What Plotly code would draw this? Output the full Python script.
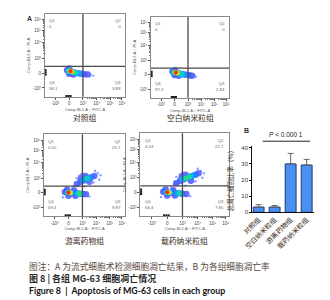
import math
import plotly.graph_objects as go

# ---------------- data ----------------
groups = ["对照组", "空白纳米粒组", "游离药物组", "载药纳米粒组"]

# quadrant percentages of each flow plot
quad_q1 = ["0", "0", "0.02", "4.03"]
quad_q2 = ["0", "0", "20.7", "21.7"]
quad_q3 = ["3.89", "2.84", "9.87", "7.85"]
quad_q4 = ["96.1", "97.2", "69.4", "66.4"]

# biexponential display: tick positions (display units) and labels
x_tick_pos = [-1, 0, 1, 2, 2.97, 3.83]
y_tick_pos = [-1, 0, 1, 2.05, 2.9, 3.6]
tick_text = ["-10³", "0", "10³", "10⁴", "10⁵", "10⁶"]

# quadrant gates (display units)
gate_x = [1.0, 1.0, 1.0, 1.0]
gate_y = [0.45, 0.45, 0.45, 0.45]

# density: (x, y, relative density)
dens_x_1 = [1.55, 1.75, -0.15, 0.1, 0.35, 0.6, 0.85, 1.1, 1.35, 0.0, 0.3, 0.0,
            -0.05, 0.25, 0.5, 0.75, 0.0, 0.2, 0.4, 0.05, 0.22, 0.1]
dens_y_1 = [-0.13, -0.18, 0.2, 0.12, 0.05, 0.0, -0.04, -0.08, -0.1, -0.05, -0.1, 0.3,
            0.15, 0.08, 0.02, -0.02, 0.15, 0.1, 0.05, 0.14, 0.1, 0.13]
dens_l_1 = [0.1, 0.08, 0.22, 0.22, 0.22, 0.22, 0.22, 0.22, 0.2, 0.22, 0.2, 0.15,
            0.45, 0.45, 0.45, 0.42, 0.6, 0.6, 0.58, 0.8, 0.78, 1.0]

dens_x_2 = [1.45, 1.6, -0.15, 0.1, 0.35, 0.6, 0.85, 1.1, 1.3, 0.0, 0.3, 0.05,
            -0.05, 0.25, 0.5, 0.75, 0.0, 0.2, 0.4, 0.05, 0.2, 0.1]
dens_y_2 = [-0.1, -0.15, 0.22, 0.15, 0.08, 0.03, 0.0, -0.04, -0.07, -0.03, -0.08, 0.32,
            0.17, 0.1, 0.05, 0.01, 0.17, 0.12, 0.07, 0.16, 0.12, 0.15]
dens_l_2 = [0.1, 0.08, 0.22, 0.22, 0.22, 0.22, 0.22, 0.22, 0.2, 0.22, 0.2, 0.15,
            0.45, 0.45, 0.45, 0.42, 0.6, 0.6, 0.55, 0.8, 0.75, 1.0]

dens_x_3 = [2.1, 0.95, 1.8, 0.4, 1.15, 2.2, 0.6, 1.9, -0.4, 1.5, 0.3, 2.3,
            -0.25, 0.0, 0.25, 0.5, 0.75, 1.0, 1.25, 0.0, 0.5, -0.1, 0.4,
            0.6, 0.85, 1.1, 1.35, 1.6, 1.85, 1.2, 1.5, 0.9,
            -0.05, 0.2, 0.65, 0.9, 1.0, 1.3, 1.55,
            0.0, 0.75, 0.85, 1.35, 0.03, 0.15, 0.0]
dens_y_3 = [1.35, 1.3, 0.7, 0.45, 0.45, 0.9, 1.0, 1.5, -0.3, -0.25, 0.35, 1.2,
            0.05, 0.0, -0.02, -0.05, -0.05, -0.08, -0.1, -0.2, -0.2, 0.2, 0.15,
            0.6, 0.75, 0.85, 0.95, 1.05, 1.15, 1.15, 0.75, 1.05,
            0.02, 0.0, -0.05, -0.06, 0.85, 0.95, 1.05,
            0.02, -0.05, -0.05, 0.98, 0.02, 0.0, 0.02]
dens_l_3 = [0.1, 0.1, 0.1, 0.1, 0.1, 0.1, 0.1, 0.1, 0.1, 0.1, 0.1, 0.1,
            0.22, 0.22, 0.22, 0.22, 0.22, 0.22, 0.2, 0.2, 0.2, 0.2, 0.2,
            0.2, 0.22, 0.22, 0.22, 0.22, 0.2, 0.2, 0.18, 0.18,
            0.45, 0.45, 0.45, 0.42, 0.4, 0.42, 0.4,
            0.6, 0.6, 0.58, 0.52, 0.8, 0.75, 1.0]

dens_x_4 = [2.2, 1.0, 1.85, 0.45, 1.2, 2.3, 0.6, 2.0, -0.4, 1.5, 0.3, 2.4,
            -0.25, 0.0, 0.25, 0.5, 0.75, 1.0, 1.25, 0.0, 0.5, -0.1, 0.4,
            0.6, 0.85, 1.1, 1.35, 1.6, 1.85, 1.2, 1.55, 0.95, 2.05,
            -0.05, 0.2, 0.65, 0.9, 1.0, 1.3, 1.55, 1.75,
            0.0, 0.8, 1.25, 1.45, 0.03, 0.15, 0.0]
dens_y_4 = [1.45, 1.35, 0.75, 0.5, 0.45, 1.0, 1.05, 1.6, -0.3, -0.25, 0.35, 1.3,
            0.05, 0.0, -0.02, -0.05, -0.05, -0.08, -0.1, -0.2, -0.2, 0.2, 0.15,
            0.62, 0.8, 0.9, 1.0, 1.1, 1.2, 1.2, 0.8, 1.1, 1.3,
            0.02, 0.0, -0.05, -0.06, 0.9, 1.0, 1.1, 1.18,
            0.02, -0.05, 0.98, 1.05, 0.02, 0.0, 0.02]
dens_l_4 = [0.1, 0.1, 0.1, 0.1, 0.1, 0.1, 0.1, 0.1, 0.1, 0.1, 0.1, 0.1,
            0.22, 0.22, 0.22, 0.22, 0.22, 0.22, 0.2, 0.2, 0.2, 0.2, 0.2,
            0.22, 0.22, 0.22, 0.22, 0.22, 0.22, 0.2, 0.2, 0.2, 0.18,
            0.45, 0.45, 0.42, 0.4, 0.45, 0.45, 0.45, 0.4,
            0.6, 0.55, 0.58, 0.56, 0.8, 0.72, 1.0]

dens_x = [dens_x_1, dens_x_2, dens_x_3, dens_x_4]
dens_y = [dens_y_1, dens_y_2, dens_y_3, dens_y_4]
dens_l = [dens_l_1, dens_l_2, dens_l_3, dens_l_4]

# events piled on the lower / left axis edges
pile_x = [-0.2, -0.05, 0.1]
pile_y = [-0.1, 0.05, 0.2]

# bar chart (B)
bar_values = [3.2, 3.2, 30.0, 29.3]
bar_errors = [1.5, 1.0, 6.5, 3.5]
bar_ticks = [0, 10, 20, 30, 40]
p_text = "<i>P</i> < 0.000 1"

# ---------------- layout helpers ----------------
W, H = 330, 300
X_RANGE = [-1.75, 4.05]
Y_RANGE = [-1.6, 4.0]


def px_x(v):
    return v / W


def px_y(v):
    return 1 - v / H


# pixel boxes (left, top, right, bottom) of the four flow plots
boxes = [(27, 5, 110, 89), (137, 8, 218, 90), (26, 127, 110, 210), (126, 126, 218, 210)]
label_y = [110, 110, 235, 235]

jet = [[0.0, "#d2dbff"], [0.12, "#7d8cff"], [0.28, "#2a3cff"], [0.45, "#00c0ff"],
       [0.6, "#22e07a"], [0.74, "#e6ea10"], [0.87, "#ff9a00"], [1.0, "#ff1800"]]


def minor_positions(pos):
    out = []
    for a, b in zip(pos[2:-1], pos[3:]):
        for k in range(2, 10):
            out.append(a + (b - a) * math.log10(k))
    return out


def msize(lv):
    return 2.6 if lv < 0.15 else 7.2 - 3.4 * lv


fig = go.Figure()
layout = dict(
    width=W, height=H, margin=dict(l=0, r=0, t=0, b=0),
    paper_bgcolor="white", plot_bgcolor="white", showlegend=False,
    font=dict(family="Liberation Sans", color="#333"),
)
annotations = []
shapes = []

for i in range(4):
    n = i + 1
    xa = "x" if n == 1 else f"x{n}"
    ya = "y" if n == 1 else f"y{n}"
    l, t, r, b = boxes[i]
    order = sorted(range(len(dens_l[i])), key=lambda k: dens_l[i][k])
    lv = [dens_l[i][k] for k in order]
    fig.add_trace(go.Scatter(
        x=[dens_x[i][k] for k in order], y=[dens_y[i][k] for k in order],
        mode="markers", xaxis=xa, yaxis=ya, hoverinfo="skip",
        marker=dict(size=[msize(v) for v in lv], color=lv, colorscale=jet,
                    cmin=0, cmax=1, opacity=0.92, line=dict(width=0)),
    ))
    # piled events on the axis edges
    fig.add_trace(go.Scatter(
        x=pile_x + [X_RANGE[0] + 0.04] * len(pile_y),
        y=[Y_RANGE[0] + 0.05] * len(pile_x) + pile_y,
        mode="markers", xaxis=xa, yaxis=ya, hoverinfo="skip", cliponaxis=False,
        marker=dict(size=2.2, color="#222", symbol="square"),
    ))
    common = dict(showgrid=False, zeroline=False, showline=True, mirror=True,
                  linecolor="#8a8a8a", linewidth=1, ticks="outside", ticklen=2,
                  tickcolor="#555", tickwidth=0.6, tickfont=dict(size=4.5, color="#444"),
                  tickmode="array", ticktext=tick_text)
    layout["xaxis" if n == 1 else f"xaxis{n}"] = dict(
        common, domain=[px_x(l), px_x(r)], anchor=ya, range=X_RANGE,
        tickvals=x_tick_pos,
        minor=dict(tickmode="array", tickvals=minor_positions(x_tick_pos), ticks="outside",
                   ticklen=1.2, tickcolor="#777", tickwidth=0.5),
        title=dict(text="Comp-BL1-A :: FITC-A", font=dict(size=4, color="#555"), standoff=2),
    )
    layout["yaxis" if n == 1 else f"yaxis{n}"] = dict(
        common, domain=[px_y(b), px_y(t)], anchor=xa, range=Y_RANGE,
        tickvals=y_tick_pos,
        minor=dict(tickmode="array", tickvals=minor_positions(y_tick_pos), ticks="outside",
                   ticklen=1.2, tickcolor="#777", tickwidth=0.5),
        title=dict(text="Comp-BL3-A :: PI-A", font=dict(size=4, color="#555"), standoff=2),
    )
    # quadrant gates
    shapes.append(dict(type="line", xref=xa, yref=f"{ya} domain", x0=gate_x[i], x1=gate_x[i],
                       y0=0, y1=1, line=dict(color="#4a4a4a", width=1.3), layer="above"))
    shapes.append(dict(type="line", xref=f"{xa} domain", yref=ya, x0=0, x1=1,
                       y0=gate_y[i], y1=gate_y[i], line=dict(color="#4a4a4a", width=1.3),
                       layer="above"))
    qf = dict(size=4.3, color="#666")
    annotations += [
        dict(xref=f"{xa} domain", yref=f"{ya} domain", x=0.03, y=0.97, xanchor="left",
             yanchor="top", text=f"Q1<br>{quad_q1[i]}", showarrow=False, font=qf, align="left"),
        dict(xref=f"{xa} domain", yref=f"{ya} domain", x=0.97, y=0.97, xanchor="right",
             yanchor="top", text=f"Q2<br>{quad_q2[i]}", showarrow=False, font=qf, align="right"),
        dict(xref=f"{xa} domain", yref=f"{ya} domain", x=0.97, y=0.05, xanchor="right",
             yanchor="bottom", text=f"Q3<br>{quad_q3[i]}", showarrow=False, font=qf, align="right"),
        dict(xref=f"{xa} domain", yref=f"{ya} domain", x=0.03, y=0.05, xanchor="left",
             yanchor="bottom", text=f"Q4<br>{quad_q4[i]}", showarrow=False, font=qf, align="left"),
        dict(xref="paper", yref="paper", x=px_x((l + r) / 2), y=px_y(label_y[i]),
             xanchor="center", yanchor="middle", text=groups[i], showarrow=False,
             font=dict(size=7.8, family="Noto Sans CJK SC", color="#3a2c22")),
    ]

# ---------------- bar chart ----------------
fig.add_trace(go.Bar(
    x=groups, y=bar_values, xaxis="x5", yaxis="y5", width=0.68,
    marker=dict(color="#4a8ff2", line=dict(color="#1d3b72", width=1)),
    error_y=dict(type="data", symmetric=False, array=bar_errors, arrayminus=[0] * 4,
                 color="#666", thickness=1, width=3),
    hoverinfo="skip",
))
layout["xaxis5"] = dict(domain=[px_x(242), px_x(306)], anchor="y5", range=[-0.4, 3.45],
                        showline=True, linecolor="#111", linewidth=1, ticks="",
                        tickangle=-45, showgrid=False,
                        tickfont=dict(size=6.8, family="Noto Sans CJK SC", color="#3a2c22"))
layout["yaxis5"] = dict(domain=[px_y(206), px_y(139)], anchor="x5", range=[0, 41],
                        showline=True, linecolor="#111", linewidth=1, ticks="outside",
                        ticklen=2, tickcolor="#111", tickvals=bar_ticks, showgrid=False,
                        zeroline=False, tickfont=dict(size=6, color="#333"),
                        title=dict(text="总凋亡细胞比率（%）", standoff=7,
                                   font=dict(size=6.5, family="Noto Sans CJK SC",
                                             color="#3a2c22")))
shapes.append(dict(type="line", xref="paper", yref="paper", x0=px_x(253), x1=px_x(302),
                   y0=px_y(134), y1=px_y(134), line=dict(color="#222", width=1)))
annotations += [
    dict(xref="paper", yref="paper", x=px_x(277), y=px_y(127), text=p_text, showarrow=False,
         xanchor="center", yanchor="middle", font=dict(size=6.5, color="#222")),
    dict(xref="paper", yref="paper", x=px_x(236), y=px_y(123), text="<b>B</b>", showarrow=False,
         xanchor="center", yanchor="middle", font=dict(size=7, color="#333")),
    dict(xref="paper", yref="paper", x=px_x(11), y=px_y(10), text="<b>A</b>", showarrow=False,
         xanchor="center", yanchor="middle", font=dict(size=7, color="#333")),
    # captions
    dict(xref="paper", yref="paper", x=px_x(8), y=px_y(261), xanchor="left", yanchor="middle",
         text="图注：A 为流式细胞术检测细胞凋亡结果，B 为各组细胞凋亡率", showarrow=False,
         font=dict(size=8.7, family="Noto Sans CJK SC", color="#5a4a3e")),
    dict(xref="paper", yref="paper", x=px_x(8), y=px_y(273), xanchor="left", yanchor="middle",
         text="<b>图 8 | 各组 MG-63 细胞凋亡情况</b>", showarrow=False,
         font=dict(size=9, family="Noto Sans CJK SC", color="#2a2a2a")),
    dict(xref="paper", yref="paper", x=px_x(8), y=px_y(285), xanchor="left", yanchor="middle",
         text="<b>Figure 8 \u00a0|\u00a0 Apoptosis of MG-63 cells in each group</b>",
         showarrow=False, font=dict(size=8.8, family="Lato", color="#111")),
]
layout["annotations"] = annotations
layout["shapes"] = shapes
fig.update_layout(**layout)
fig.write_html("out.html")
